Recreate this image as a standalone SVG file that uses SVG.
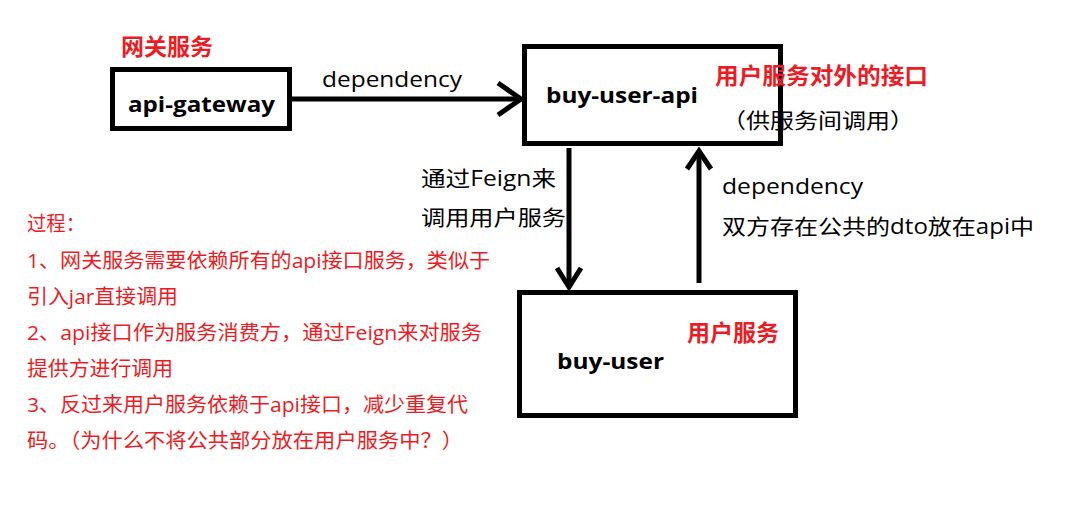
<svg xmlns="http://www.w3.org/2000/svg" width="1088" height="512" viewBox="0 0 1088 512">
<style>
.box{fill:#fff;stroke:#000;stroke-width:5}
.ln{fill:none;stroke:#000;stroke-width:5;stroke-linecap:butt;stroke-linejoin:miter}
.nm{font-family:"Open Sans","Noto Sans CJK SC",sans-serif;font-weight:bold;font-size:22px;fill:#000}
.tt{font-family:"Noto Sans CJK SC",sans-serif;font-weight:bold;font-size:23px;fill:#ed1c24}
.lb{font-family:"Open Sans","Noto Sans CJK SC",sans-serif;font-size:21px;fill:#000}
.rd{font-family:"Open Sans","Noto Sans CJK SC",sans-serif;font-size:20.5px;fill:#ed1c24}
</style>
<rect width="1088" height="512" fill="#fff"/>
<g id="api-gateway">
<rect class="box" x="112.5" y="69.5" width="177" height="59"/>
<text class="nm" x="128" y="112" textLength="147" lengthAdjust="spacingAndGlyphs">api-gateway</text>
<text class="tt" x="121" y="55">网关服务</text>
</g>
<g id="buy-user-api">
<rect class="box" x="524.5" y="46.5" width="256" height="97"/>
<text class="nm" x="546" y="103" textLength="152" lengthAdjust="spacingAndGlyphs">buy-user-api</text>
<text class="tt" x="715" y="84" textLength="213" lengthAdjust="spacingAndGlyphs">用户服务对外的接口</text>
<text class="lb" x="722" y="128" font-size="22" textLength="192" lengthAdjust="spacingAndGlyphs">（供服务间调用）</text>
</g>
<g id="buy-user">
<rect class="box" x="519.5" y="292.5" width="276" height="123"/>
<text class="nm" x="557" y="369" textLength="107" lengthAdjust="spacingAndGlyphs">buy-user</text>
<text class="tt" x="687" y="341">用户服务</text>
</g>
<g id="connectors">
<line class="ln" x1="290" y1="99" x2="520" y2="99"/>
<polyline class="ln" points="498,83 521,99 498,115"/>
<text class="lb" x="322" y="87" textLength="140" lengthAdjust="spacingAndGlyphs">dependency</text>
<line class="ln" x1="569" y1="148" x2="569" y2="287"/>
<polyline class="ln" points="557,268 569,287 581,268"/>
<text class="lb" x="421" y="186" textLength="135" lengthAdjust="spacingAndGlyphs">通过Feign来</text>
<text class="lb" x="421" y="225" textLength="145" lengthAdjust="spacingAndGlyphs">调用用户服务</text>
<line class="ln" x1="699" y1="283" x2="699" y2="151"/>
<polyline class="ln" points="687,169 699,151 711,169"/>
<text class="lb" x="722" y="194" textLength="141" lengthAdjust="spacingAndGlyphs">dependency</text>
<text class="lb" x="722" y="234" textLength="312" lengthAdjust="spacingAndGlyphs">双方存在公共的dto放在api中</text>
</g>
<g id="notes">
<text class="rd" x="27" y="231" textLength="58" lengthAdjust="spacingAndGlyphs">过程：</text>
<text class="rd" x="27" y="268" textLength="463" lengthAdjust="spacingAndGlyphs">1、网关服务需要依赖所有的api接口服务，类似于</text>
<text class="rd" x="27" y="304" textLength="151" lengthAdjust="spacingAndGlyphs">引入jar直接调用</text>
<text class="rd" x="27" y="340" textLength="455" lengthAdjust="spacingAndGlyphs">2、api接口作为服务消费方，通过Feign来对服务</text>
<text class="rd" x="27" y="376" textLength="146" lengthAdjust="spacingAndGlyphs">提供方进行调用</text>
<text class="rd" x="27" y="412" textLength="441" lengthAdjust="spacingAndGlyphs">3、反过来用户服务依赖于api接口，减少重复代</text>
<text class="rd" x="27" y="448" textLength="436" lengthAdjust="spacingAndGlyphs">码。（为什么不将公共部分放在用户服务中？）</text>
</g>
</svg>
